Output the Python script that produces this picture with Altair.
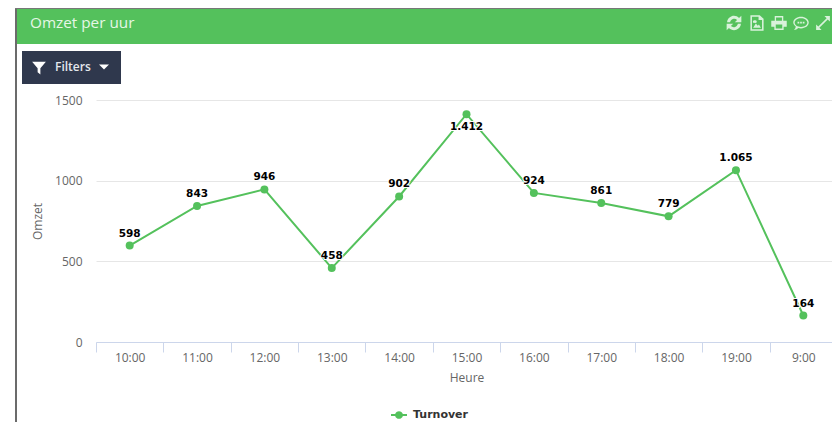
import altair as alt
import pandas as pd

hours = ["10:00","11:00","12:00","13:00","14:00","15:00","16:00","17:00","18:00","19:00","9:00"]
values = [598,843,946,458,902,1412,924,861,779,1065,164]
labels = ["598","843","946","458","902","1.412","924","861","779","1.065","164"]
series = ["Turnover"]*len(hours)

GREEN = "#54c15c"
NAVY = "#2f384d"
ICON = "#d9f2db"
FONT = "Open Sans"
LABEL_FONT = "DejaVu Sans"

df = pd.DataFrame({"Heure": hours, "Omzet": values, "label": labels, "serie": series})
blank = alt.Chart(alt.Data(values=[{}]))

# page position -> chart pixel value (plot origin is at page 96,100)
def px(v): return alt.value(v - 96)
def py(v): return alt.value(v - 100)

def box(x0, x1, y0, y1, color):
    return blank.mark_rect(color=color).encode(x=px(x0), x2=px(x1), y=py(y0), y2=py(y1))

def icon(path, x, y, size, color=ICON):
    return blank.mark_point(shape=path, filled=True, color=color, opacity=1, size=size, strokeWidth=0).encode(x=px(x), y=py(y))

def txt(s, x, y, size, color, **kw):
    return blank.mark_text(text=s, font=FONT, fontSize=size, color=color, baseline="middle", **kw).encode(x=px(x), y=py(y))

REFRESH = "M-.9,-.1A.9,.9 0 0 1 .65,-.65L.95,-.95V-.1H.1L.4,-.4A.55,.55 0 0 0 -.5,-.1ZM.9,.1A.9,.9 0 0 1 -.65,.65L-.95,.95V.1H-.1L-.4,.4A.55,.55 0 0 0 .5,.1Z"
FILE = "M-.85,-1H.35L.85,-.55V1H-.85ZM-.65,-.8V.8H.65V-.4H.2V-.8ZM-.5,.6L-.15,.05L.1,.35L.25,.2L.5,.6ZM-.28,-.35A.18,.18 0 1 1 -.28,-.02A.18,.18 0 1 1 -.28,-.35Z"
PRINTER = "M-.55,-.9H.55V-.3H1V.5H.6V.9H-.6V.5H-1V-.3H-.55ZM-.38,-.72V-.3H.38V-.72ZM-.42,.2V.72H.42V.2Z"
CHAT = "M0,-.8C.55,-.8 1,-.47 1,-.05C1,.37 .55,.7 0,.7C-.12,.7 -.25,.68 -.35,.65C-.5,.8 -.7,.9 -.9,.9C-.75,.75 -.68,.6 -.68,.45C-.88,.3 -1,.13 -1,-.05C-1,-.47 -.55,-.8 0,-.8ZM0,-.62C-.45,-.62 -.82,-.37 -.82,-.05C-.82,.27 -.45,.52 0,.52C.45,.52 .82,.27 .82,-.05C.82,-.37 .45,-.62 0,-.62ZM-.45,-.17H-.22V.07H-.45ZM-.11,-.17H.11V.07H-.11ZM.22,-.17H.45V.07H.22Z"
EXPAND = "M.2,-.95H.95V-.2L.65,-.5L-.5,.65L-.2,.95H-.95V.2L-.65,.5L.5,-.65Z"
FUNNEL = "M-1,-.9H1L.2,.05V.95L-.2,.6V.05Z"
CARET = "M-1,-.5H1L0,.5Z"
LEGEND_SYMBOL = "M-1,-.12H-.48A.5,.5 0 0 1 .48,-.12H1V.12H.48A.5,.5 0 0 1 -.48,.12H-1Z"

chrome = [
    box(16, 840, 8, 44, GREEN),
    box(15, 17, 8, 422, "#6b6b6b"),
    box(15, 840, 8, 9, "#777777"),
    txt("Omzet per uur", 30, 23, 15.3, "#e6f7e7", align="left"),
    icon(REFRESH, 734, 23, 240),
    icon(FILE, 757, 23, 240),
    icon(PRINTER, 779, 23, 240),
    icon(CHAT, 801, 23, 240),
    icon(EXPAND, 823, 23, 210),
    box(22, 121, 51, 84, NAVY),
    icon(FUNNEL, 39, 68, 190, "#ffffff"),
    txt("Filters", 55, 67, 12, "#e4e7ec", align="left", fontWeight=600),
    icon(CARET, 104, 67, 100, "#ffffff"),
]

x = alt.X("Heure:N", sort=None, bandPosition=0.5,
          scale=alt.Scale(type="band", paddingInner=0, paddingOuter=0, range=[0, 741]),
          axis=alt.Axis(title="Heure", labelAngle=0, tickBand="extent", tickSize=10, tickColor="#ccd6eb",
                        domainColor="#ccd6eb", domainWidth=1, grid=False, labelFont=FONT, labelFontSize=12,
                        labelColor="#666666", labelPadding=0, titleFont=FONT, titleFontSize=12,
                        titleColor="#666666", titleFontWeight="normal", titlePadding=9))
y = alt.Y("Omzet:Q", scale=alt.Scale(domain=[0, 1500]),
          axis=alt.Axis(title="Omzet", values=[0, 500, 1000, 1500], format="d", grid=True, gridColor="#e6e6e6",
                        domain=False, ticks=False, labelFont=FONT, labelFontSize=12, labelColor="#666666",
                        labelPadding=14, titleFont=FONT, titleFontSize=12, titleColor="#666666",
                        titleFontWeight="normal", titlePadding=10))

base = alt.Chart(df).encode(x=x, y=y)
line = base.mark_line(color=GREEN, strokeWidth=2)
dots = base.mark_circle(size=64, opacity=1).encode(
    color=alt.Color("serie:N", scale=alt.Scale(range=[GREEN]),
                    legend=alt.Legend(title=None, orient="none", legendX=295, legendY=307, padding=0,
                                      symbolType=LEGEND_SYMBOL, symbolSize=256, symbolStrokeWidth=0,
                                      labelFont=LABEL_FONT, labelFontSize=11, labelFontWeight="bold",
                                      labelColor="#333333", labelOffset=6)))

def label_layer(data_filter, dy):
    b = base.transform_filter(data_filter)
    halo = b.mark_text(font=LABEL_FONT, fontSize=10.5, fontWeight="bold", dy=dy, baseline="middle",
                       stroke="#ffffff", strokeWidth=2, strokeJoin="round", fill="#ffffff").encode(text="label:N")
    front = b.mark_text(font=LABEL_FONT, fontSize=10.5, fontWeight="bold", dy=dy, baseline="middle",
                        color="#000000").encode(text="label:N")
    return [halo, front]

layers = chrome + [line, dots] + label_layer("datum.Omzet <= 1400", -12) + label_layer("datum.Omzet > 1400", 13)

chart = alt.layer(*layers).properties(
    width=736, height=242,
    autosize=alt.AutoSizeParams(type="none"),
    padding={"left": 88, "top": 92, "right": 0, "bottom": 80},
    background="#ffffff",
).configure_view(stroke=None)

chart.save("out.html", embed_options={"renderer": "svg", "actions": False})
